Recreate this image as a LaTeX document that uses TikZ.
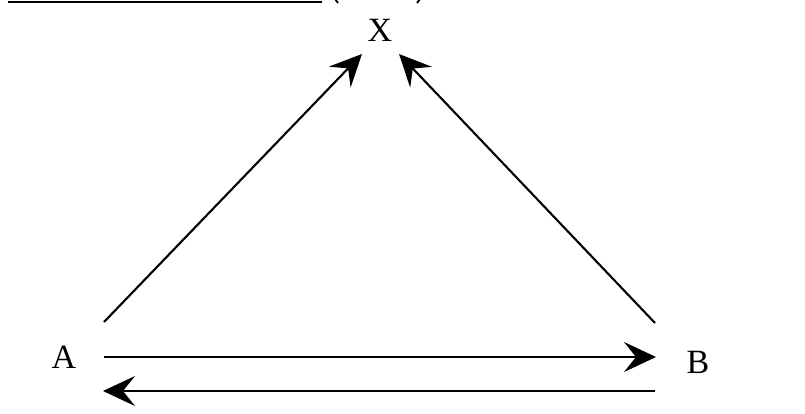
\documentclass[tikz,border=0pt]{standalone}
\usepackage{fontspec}
\setmainfont{Liberation Serif}
\usetikzlibrary{arrows.meta}
\tikzset{
  lbl/.style={font=\fontsize{34}{38}\selectfont, inner sep=0pt},
  arr/.style={line width=2.1pt, -{Stealth[length=32pt, width=30pt, inset=12pt]}},
  frag/.style={line width=1.8pt}
}
\begin{document}
\begin{tikzpicture}[x=1pt,y=-1pt]
\useasboundingbox (0,0) rectangle (805,414);
\clip (0,0) rectangle (805,414);
% top underline and cut-off parentheses
\coordinate (u1) at (8,2);
\coordinate (u2) at (322,2);
\draw[line width=2pt] (u1) -- (u2);
\coordinate (lp1) at (335,-1);
\coordinate (lp2) at (338,3);
\coordinate (rp1) at (420,-1);
\coordinate (rp2) at (417,3);
\draw[frag] (lp1) to[bend right=20] (lp2);
\draw[frag] (rp1) to[bend left=20] (rp2);
% labels
\node[lbl] (X) at (380,30) {X};
\node[lbl] (A) at (64,357) {A};
\node[lbl] (B) at (698,362) {B};
% connector end points
\coordinate (a1) at (104,322);
\coordinate (x1) at (362,54);
\coordinate (b1) at (655,323);
\coordinate (x2) at (399,54);
\coordinate (a2) at (104,357);
\coordinate (b2) at (656,357);
\coordinate (b3) at (655,391);
\coordinate (a3) at (103,391);
\draw[arr] (a1) -- (x1);
\draw[arr] (b1) -- (x2);
\draw[arr] (a2) -- (b2);
\draw[arr] (b3) -- (a3);
\end{tikzpicture}
\end{document}
